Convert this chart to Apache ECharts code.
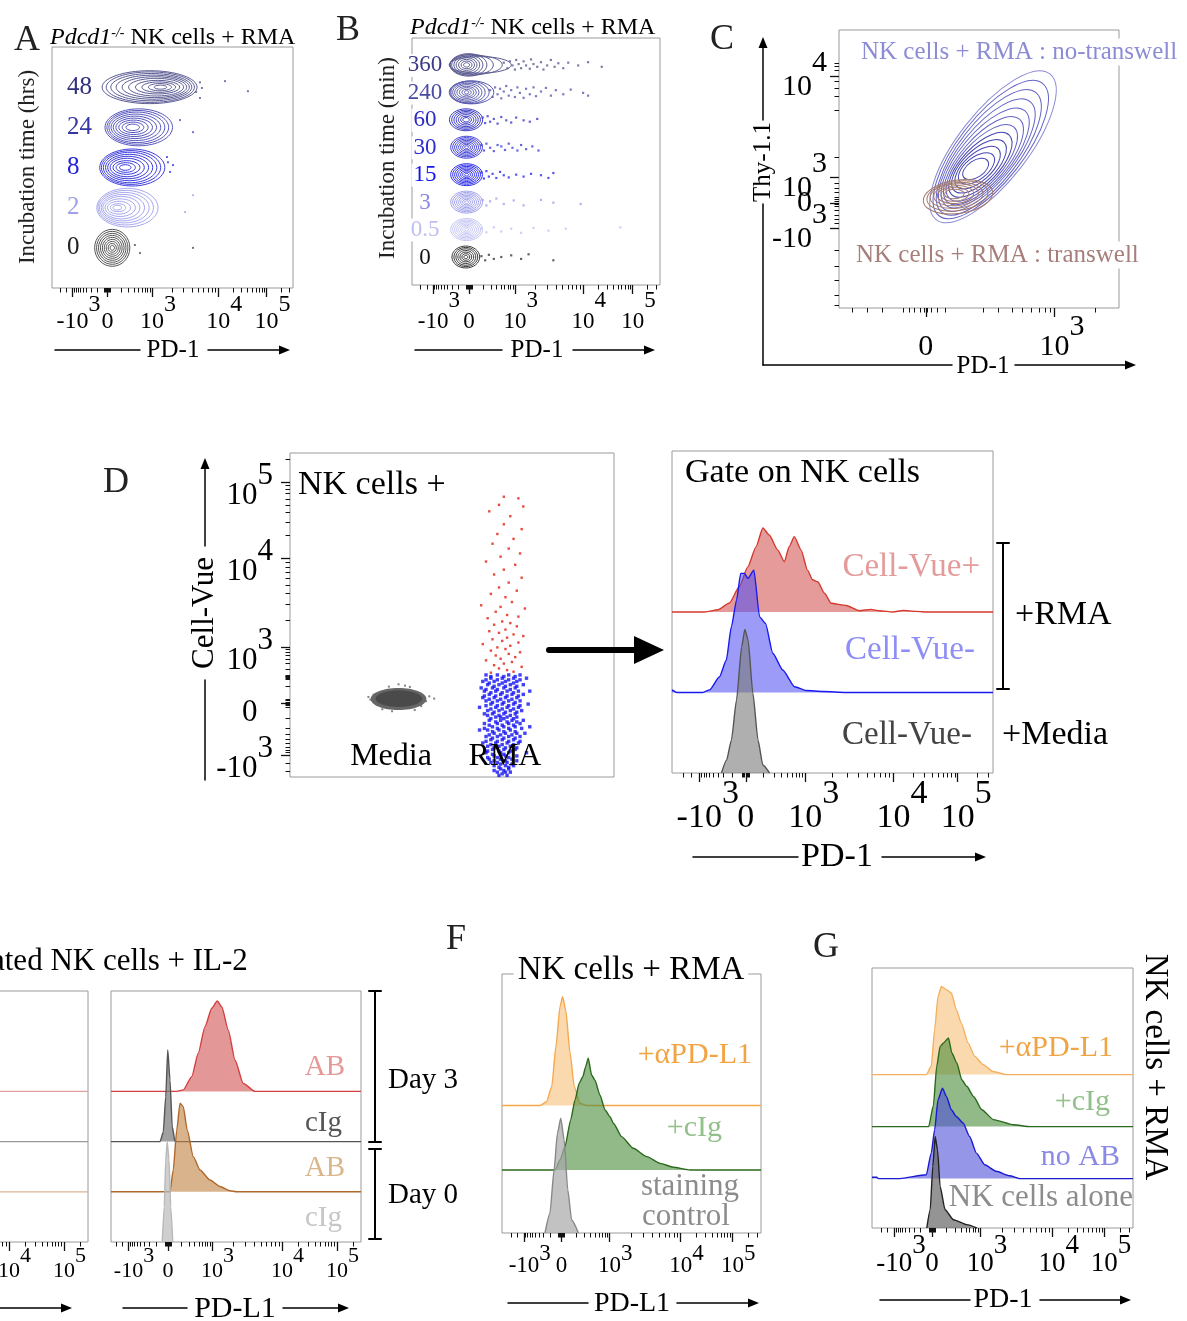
<!DOCTYPE html>
<html>
<head>
<meta charset="utf-8">
<script src="https://cdn.jsdelivr.net/npm/echarts@6/dist/echarts.min.js"></script>
<style>
  html, body { margin: 0; padding: 0; background: #fff; }
  #chart { width: 1187px; height: 1321px; }
</style>
</head>
<body>
<div id="chart"></div>
<script>
const FONT = '"Liberation Serif", "Times New Roman", serif';

// biexponential axes are drawn in display units 0-100 across each box
const biexLabels = ['-10^3', '0', '10^3', '10^4', '10^5'];
const biexTicks = [8.5, 23, 41.5, 69, 89];
const biexTicksE = [7, 22.8, 40.4, 68.4, 90.4];

// ---------- A: contour rows (hrs) ----------
const aRows = [1, 2, 3, 4, 5];
const aRowLabels = ['0', '2', '8', '24', '48'];
const aLabelColors = ['#222222', '#A0A0E8', '#2222D8', '#3636A2', '#30307A'];
const aLineColors = ['#555555', '#A6A6F0', '#3A3ADE', '#5454BE', '#5A5A94'];
// rings per row: [centre x, half width, half height]
const aRings = [
  [[25, 7.3, .46], [25, 6.5, .41], [25, 5.7, .36], [25, 4.9, .31], [25, 4.1, .26], [25, 3.3, .21], [25, 2.5, .16], [25, 1.7, .11], [25, 0.9, .06]],
  [[31.3, 12.7, .48], [30.6, 11.5, .43], [30, 10.3, .38], [29.4, 9, .33], [28.8, 7.7, .28], [28.3, 6.3, .22], [27.8, 4.8, .16], [27.4, 3.2, .1], [27.1, 1.8, .06]],
  [[33.3, 13.5, .46], [32.8, 12.3, .42], [32.4, 11.1, .38], [32, 9.8, .33], [31.6, 8.5, .28], [31.2, 7.1, .23], [30.9, 5.6, .17], [30.6, 4, .12], [30.4, 2.4, .07]],
  [[36, 14, .46], [35.6, 12.8, .42], [35.2, 11.6, .38], [34.8, 10.3, .33], [34.4, 9, .28], [34.1, 7.6, .23], [33.8, 6.1, .18], [33.6, 4.5, .13], [33.5, 2.8, .08]],
  [[40.5, 19.7, .41], [40.8, 18.3, .38], [41.2, 16.8, .34], [41.8, 15.2, .3], [42.5, 13.4, .26], [43.2, 11.4, .22], [43.8, 9.2, .17], [44.3, 7, .13], [44.8, 4.8, .09], [45, 2.6, .05]]
];
const aDots = [
  [[34.4, 1.07], [36.5, 0.87], [58.5, 1.0]],
  [[58.5, 2.31], [55.2, 1.89]],
  [[47.7, 3.26], [49, 2.89], [50.2, 3.06], [48.1, 3.13]],
  [[53.1, 4.18], [58.5, 3.88]],
  [[61.4, 5.12], [62.2, 4.98], [71.8, 5.15], [81.3, 4.9], [61.4, 4.73], [59.8, 4.88]]
];

// ---------- B: contour rows (min) ----------
const bRows = [1, 2, 3, 4, 5, 6, 7, 8];
const bRowLabels = ['0', '0.5', '3', '15', '30', '60', '240', '360'];
const bLabelColors = ['#111111', '#BEBEF2', '#8A8AE6', '#1414F0', '#2E2ED5', '#2C2CC0', '#4A4AA5', '#3B3B85'];
const bLineColors = ['#3C3C3C', '#C4C4F4', '#A0A0EC', '#2A2AEE', '#4040D8', '#3A3AC4', '#5A5AAE', '#5C5C92'];
const bSmall = [[22, 6.4, .40], [22, 5.6, .35], [22, 4.8, .30], [22, 4.0, .25], [22, 3.2, .20], [22, 2.4, .15], [22, 1.6, .10], [22, 0.8, .05]];
const bRings = [
  [[21.7, 5.6, .40], [21.7, 4.8, .35], [21.7, 4.0, .30], [21.7, 3.2, .24], [21.7, 2.4, .18], [21.7, 1.6, .12], [21.7, 0.8, .06]],
  bSmall, bSmall, bSmall, bSmall,
  [[21.8, 6.7, .40], [21.8, 5.8, .35], [21.8, 4.9, .30], [21.8, 4.0, .25], [21.8, 3.1, .19], [21.8, 2.2, .13], [21.8, 1.3, .08]],
  [[24, 9, .42], [23.2, 7.9, .41], [22.6, 6.9, .38], [22.3, 5.9, .33], [22.1, 4.9, .28], [22, 3.9, .22], [22, 2.9, .17], [22, 1.9, .11], [22, 0.9, .06]],
  [[27.5, 12.5, .30], [25.8, 10.6, .34], [24, 8.8, .38], [22.8, 7.4, .41], [22.3, 6.3, .37], [22.1, 5.2, .32], [22, 4.2, .26], [22, 3.2, .2], [22, 2.2, .14], [22, 1.2, .08]]
];
const bDots = [
  [[28, 1.05], [29.5, 0.9], [31, 1.1], [33, 0.95], [36, 1.02], [40, 1.08], [44, 0.95], [47, 1.12], [57, 0.9]],
  [[28, 2.05], [30, 1.92], [33, 2.1], [36, 1.95], [40, 2.05], [44, 1.9], [49, 2.08], [55, 1.98], [62, 2.05], [84, 2.1]],
  [[28.5, 3.1], [30, 2.9], [31.5, 3.05], [34, 3.15], [37, 2.95], [41, 3.08], [45, 2.9], [52, 3.1], [57, 3.0], [68, 2.95]],
  [[28, 4.1], [29, 3.88], [30, 4.15], [31, 3.95], [32.5, 4.05], [34, 3.9], [35.5, 4.12], [37, 4.0], [39, 3.92], [42, 4.02], [45, 3.95], [48, 4.05], [52, 4.0], [55, 3.9], [57, 4.08]],
  [[28, 5.1], [29, 4.9], [30, 5.15], [31.5, 5.0], [33, 4.88], [34.5, 5.1], [36, 5.05], [37.5, 4.92], [39, 5.15], [40.5, 5.0], [42.5, 4.9], [44, 5.1], [46, 4.95], [48.5, 5.05], [51, 4.9]],
  [[28.5, 6.1], [29.5, 5.9], [30.5, 6.15], [31.5, 5.95], [33, 6.05], [34.5, 5.88], [36, 6.12], [38, 6.0], [40, 5.92], [42, 6.1], [45, 6.0], [47.5, 5.95], [50.5, 6.05]],
  [[31.5, 7.1], [32.5, 6.85], [33.5, 7.2], [34.5, 6.95], [35.5, 7.15], [36, 6.8], [37, 7.05], [38, 7.25], [39, 6.9], [40, 7.1], [41.5, 6.85], [42.5, 7.2], [43.5, 7.0], [45, 6.82], [46, 7.15], [47.5, 6.95], [49, 7.2], [50, 6.88], [52, 7.05], [54, 7.18], [56, 6.9], [58, 7.1], [61, 6.95], [64, 7.12], [69, 7.0], [71, 6.9]],
  [[37, 8.1], [38.5, 7.9], [39.5, 8.15], [40.5, 8.0], [41.5, 7.85], [42, 8.2], [43, 8.05], [44, 7.9], [45, 8.15], [46, 8.0], [47.5, 7.88], [48, 8.22], [49, 8.05], [50.5, 7.95], [52, 8.12], [53, 7.85], [54.5, 8.0], [56, 8.2], [57.5, 7.95], [59, 8.08], [61, 7.9], [63, 8.1], [67, 8.0], [71, 8.12], [76.5, 7.95]]
];

// ---------- C: tilted contours ----------
const cXTicks = [31, 77];
const cXLabels = ['0', '10^3'];
const cYTicks = [28.8, 37.8, 47, 83.5];
const cYLabels = ['-10^3', '0', '10^3', '10^4'];
const cXMinor = [4.6, 10, 15.4, 23, 25, 27, 29, 30.4, 31.6, 33, 35, 38, 51.4, 57, 62, 65.5, 68.6, 71.5, 73.8, 75.6, 91.4];
const cYMinor = [1.1, 4.7, 10.1, 14.9, 20.9, 30.5, 32, 33.5, 35, 36.5, 37.2, 38.4, 39, 40, 41.5, 43, 45, 54.4, 71.2, 76, 79, 81.4, 85.6, 86.8, 88];
const cColors = ['#8A8AD8', '#6464C6', '#4646B2', '#A47A6C'];
// [cx, cy, rx, ry, angle deg, colour]
const cNoTranswell = [
  [55, 58, 33, 12.5, 52, 0], [54.2, 57, 30, 11.6, 52, 1], [53.5, 56, 27.2, 10.7, 52, 1], [52.8, 55, 24.6, 9.8, 51, 1],
  [52.2, 54, 22, 9, 50, 1], [51.6, 53, 19.6, 8.2, 49, 1], [51, 52.2, 17.2, 7.4, 48, 1], [50.5, 51.5, 14.8, 6.6, 46, 2],
  [50, 51, 12.4, 5.8, 44, 2], [49.5, 50.5, 10, 4.9, 42, 2], [49.1, 50.2, 7.6, 4, 38, 2], [48.8, 50, 5.2, 3, 34, 2]
];
const cTranswell = [
  [42.5, 40, 12.5, 6, 8, 3], [42.3, 40.3, 11, 5.3, 8, 3], [42, 40.5, 9.5, 4.6, 6, 3], [41.8, 40.7, 8, 3.9, 5, 3],
  [41.6, 40.8, 6.5, 3.2, 4, 3], [41.4, 40.9, 5, 2.5, 3, 3], [41.2, 41, 3.5, 1.7, 2, 3]
];

// ---------- D: Cell-Vue dot plot ----------
const dYTicks = [6.8, 22.8, 40.2, 67.5, 91.1];
const dYMinorExtra = [30.3, 30.6, 30.9, 31.2, 31.5];
const dMediaCloud = [[33.5, 24.1, 8.6, 3.4, 0, 0], [33.6, 24.2, 7.2, 2.6, 0, 1]];
const dMediaDots = [[24.8, 23.9], [25.8, 25.4], [42, 23.4], [43, 24.9], [30.5, 27.9], [35.5, 28.2], [28.5, 20.9], [38.5, 20.7], [33.5, 28.6], [27, 22.2], [40.5, 21.9], [44.5, 24.2], [24.2, 24.7], [31.5, 20.3], [37, 27.8]];
const dRmaRed = [
  [66, 86.5], [70.5, 86], [64.5, 84], [72, 83.5], [61.5, 82], [68, 80.5], [66, 78], [71.5, 76.5], [64, 75], [69, 73.5], [62.5, 72], [67.5, 70.5], [71, 69],
  [65, 68], [60.5, 66.5], [69.5, 65.5], [66, 64], [63, 62.5], [71.5, 61.5], [67.5, 60], [64.5, 58.5], [70, 57.5], [62, 56.5], [66.5, 55.5], [68.5, 54], [59, 53], [65, 52.5], [72.5, 52], [63.5, 51], [67, 50], [70.5, 49.5], [61, 49],
  [65.5, 48], [68, 47.5], [63, 47], [70, 46.5], [66.5, 45.5], [61.5, 45], [64.5, 44.5], [69, 44], [72, 43.5], [67, 43], [62.5, 42.5], [65.5, 42], [70.5, 41.5], [59.5, 41], [68, 40.5], [64, 40], [66.5, 39.5], [62, 39], [71, 38.5], [67.5, 38], [63.5, 37.5], [69.5, 37], [65, 36.5], [60.5, 36], [68.5, 35.5], [66, 35], [63, 34.5], [71.5, 34], [64.5, 33.5], [67, 33], [69, 32.5], [62, 32.2]
];
const dRmaBlue = [
  [60.5, 31.5], [64, 31.5], [67.5, 31.5], [71, 31.5], [62, 30.5], [65.5, 30.5], [69, 30.5], [73, 30.5],
  [59.5, 29.5], [63, 29.5], [66.5, 29.5], [70, 29.5], [61, 28.5], [64.5, 28.5], [68, 28.5], [72, 28.5],
  [62.5, 27.5], [66, 27.5], [69.5, 27.5], [59, 27.5], [60, 26.5], [63.5, 26.5], [67, 26.5], [70.5, 26.5], [74, 26.5],
  [61.5, 25.5], [65, 25.5], [68.5, 25.5], [72, 25.5], [63, 24.5], [66.5, 24.5], [70, 24.5], [59.5, 24.5],
  [60.5, 23.5], [64, 23.5], [67.5, 23.5], [71, 23.5], [62, 22.5], [65.5, 22.5], [69, 22.5], [73.5, 22.5],
  [58.5, 21.5], [63.5, 21.5], [67, 21.5], [70.5, 21.5], [61, 20.5], [64.5, 20.5], [68, 20.5], [71.5, 20.5],
  [62.5, 19.5], [66, 19.5], [69.5, 19.5], [60, 19.5], [63.5, 18.5], [67, 18.5], [70, 18.5], [65, 18.5],
  [61.5, 17.5], [65, 17.5], [68.5, 17.5], [72, 17.5], [60, 16.5], [64, 16.5], [67.5, 16.5], [71, 16.5],
  [62.5, 15.5], [66, 15.5], [69.5, 15.5], [74, 15.5], [61, 14.5], [64.5, 14.5], [68, 14.5], [58.5, 14.5],
  [63, 13.5], [66.5, 13.5], [70, 13.5], [72.5, 13.5], [60.5, 12.5], [64, 12.5], [67.5, 12.5], [71, 12.5],
  [62, 11.5], [65.5, 11.5], [69, 11.5], [63.5, 10.5], [67, 10.5], [70.5, 10.5], [59.5, 10.5],
  [61, 9.5], [64.5, 9.5], [68, 9.5], [62.5, 8.5], [66, 8.5], [69.5, 8.5], [60.5, 7.5], [65, 7.5], [67.5, 7.5], [73, 7.5],
  [63, 6.5], [66.5, 6.5], [70, 6.5], [61.5, 5.5], [65, 5.5], [68.5, 5.5], [64, 4.5], [67, 4.5], [62, 4.5],
  [63, 3.5], [66.5, 3.5], [69, 3.5], [65, 2.5], [67.5, 2.5], [64, 1.5], [66.5, 1.5], [68, 1.5], [64.5, 0.5], [67, 0.5],
  [62, 31], [66, 31], [69.5, 31], [60.5, 30], [64, 30], [67.5, 30], [71, 30], [61.5, 29], [65.5, 29], [69, 29],
  [63, 28], [66.5, 28], [70, 28], [60.5, 27], [64, 27], [68, 27], [62, 26], [65.5, 26], [69, 26],
  [60, 25], [63.5, 25], [67, 25], [70.5, 25], [61.5, 24], [65, 24], [68.5, 24], [62.5, 23], [66, 23], [69.5, 23],
  [60.5, 22], [64, 22], [67.5, 22], [71, 22], [62, 21], [65.5, 21], [69, 21], [63, 20], [66.5, 20], [70, 20],
  [61, 19], [64.5, 19], [68, 19], [62, 18], [66, 18], [69, 18], [63.5, 17], [67, 17], [70, 17],
  [61.5, 16], [65.5, 16], [69, 16], [60, 15], [64, 15], [67.5, 15], [71.5, 15], [62.5, 14], [66, 14], [69.5, 14],
  [61.5, 13], [65, 13], [68.5, 13], [62.5, 12], [66, 12], [69.5, 12], [60.5, 11], [64, 11], [67.5, 11], [71, 11],
  [62, 10], [65.5, 10], [69, 10], [63, 9], [66.5, 9], [70, 9], [61, 8], [64.5, 8], [68, 8], [62.5, 7], [66, 7],
  [64, 6], [67.5, 6], [61, 6], [63, 5], [66.5, 5], [70, 5], [65, 4], [68.5, 4], [64.5, 3], [67.5, 3], [63, 2], [66, 2], [65.5, 1]
];

// ---------- D: PD-1 histograms ----------
const dhCellVuePos = [[0, 50], [10.3, 50], [14.3, 50.7], [17.9, 52.8], [21, 57.9], [23.6, 64], [26.2, 70.3], [28.3, 76.1], [30.3, 73.9], [32.9, 69.3], [35, 65.6], [36.5, 70.3], [38.1, 73.4], [40.2, 69.3], [42.2, 63], [43.8, 60], [45.4, 59.4], [47.5, 55.8], [49.6, 52.7], [54.3, 52], [58.4, 50.4], [62, 50.8], [64.7, 50.4], [68.8, 50], [72, 50.5], [76, 50.2], [80, 50], [100, 50]];
const dhCellVueNeg = [[0, 25.8], [1.5, 25], [9.6, 25], [11.7, 25.8], [14.8, 29.9], [16.9, 35], [18.5, 45.4], [20.1, 53.7], [21.4, 62], [22.6, 62], [23.6, 60.4], [25.5, 63], [27.3, 48.5], [29.1, 46.5], [31.4, 37.2], [34.5, 32], [38.2, 26.8], [41.8, 25.6], [47, 25.3], [54.3, 25], [100, 25]];
const dhMedia = [[15.4, 0], [17, 4], [18.5, 10.2], [20.1, 22.7], [21.7, 39.2], [22.7, 44.6], [23.7, 41.3], [25.2, 24.7], [26.8, 10.2], [28.3, 2.5], [30.4, 0]];

// ---------- E: PD-L1 day 0 / day 3 ----------
const eLeftBaselines = [60, 40, 20];
const eAB3 = [[0, 60], [26.3, 60], [28.9, 60.6], [32.3, 65.9], [34.9, 75.2], [37.6, 85.8], [40.3, 93.1], [42.5, 96], [44.3, 93.7], [46.9, 84.5], [49.6, 72.5], [52.9, 63.2], [57.6, 60], [100, 60]];
const eIg3 = [[0, 40], [19.6, 40], [20.9, 43.7], [21.9, 57.9], [22.7, 76.5], [23.6, 64.5], [24.5, 45.9], [25.6, 40], [100, 40]];
const eAB0 = [[0, 20], [23.6, 20], [24.9, 28.7], [26.3, 44.6], [27.6, 55.3], [28.9, 53.9], [30.5, 44.6], [32.9, 34], [35.6, 28.7], [39.6, 24.7], [43.6, 22.1], [47.6, 20.4], [50.3, 20], [100, 20]];
const eIg0 = [[20.5, 0], [21.3, 14], [21.9, 32.7], [22.5, 40], [23.2, 32.7], [23.9, 14], [24.7, 0]];

// ---------- F: PD-L1 on NK cells + RMA ----------
const fAntiPDL1 = [[0, 49.2], [14.7, 49.2], [17.2, 50.7], [19.2, 56.5], [20.8, 71.9], [22.4, 87.4], [23.4, 91.2], [24.6, 86.1], [26.3, 69.4], [27.9, 56.5], [30.1, 50.1], [32.7, 49.2], [100, 49.2]];
const fCIg = [[0, 24.3], [20.5, 24.3], [22.4, 28.2], [24.3, 33.3], [26.5, 43.6], [28.2, 51.4], [29.8, 57.8], [31.2, 60.3], [32.3, 64.2], [33.3, 67.5], [34.6, 61], [35.9, 59], [37.8, 53.3], [39.8, 47.5], [41.7, 44.9], [43, 42.4], [46.2, 37.2], [50.7, 32.7], [55.9, 29.5], [61, 26.9], [66.1, 25.4], [72.6, 24.3], [100, 24.3]];
const fStain = [[16.6, 0], [18.5, 7.6], [20.1, 24.3], [21.4, 38.5], [22.7, 44.3], [24, 35.9], [25.4, 16.6], [26.9, 5], [29.5, 0]];

// ---------- G: PD-1 with blocking ----------
const gAntiPDL1 = [[0, 59], [20.8, 59], [22.7, 62.2], [24, 76.3], [25.3, 89.1], [26.6, 92.9], [28.5, 91.7], [30.4, 90.4], [32.3, 84], [34.2, 78.8], [36.8, 71.2], [39.4, 66], [42.6, 62.8], [46.4, 60.2], [51.5, 59], [100, 59]];
const gCIg = [[0, 39], [21.7, 39], [23.5, 47], [24.8, 62.2], [26.1, 69.8], [27.4, 71.2], [29.3, 73.1], [30.6, 67.3], [32.5, 63.5], [34.4, 57], [36.3, 54.5], [38.9, 50.6], [42.1, 45.5], [46.5, 41.7], [54.2, 39.7], [60.6, 39], [100, 39]];
const gNoAB = [[0, 19.5], [1.8, 19.5], [2.5, 19], [10.6, 19], [20.8, 20.5], [22.7, 28.8], [24, 37.8], [25.3, 49.3], [27, 53.8], [28.5, 50.6], [30.4, 45.5], [32.3, 42.9], [34.9, 40.4], [37.4, 35.2], [40, 28.8], [43.2, 24.3], [47.6, 21.8], [52.7, 20.1], [56.6, 19], [100, 19]];
const gAlone = [[21, 0], [22.3, 7], [23.3, 23.7], [24.2, 35.2], [25.1, 30.1], [26.1, 16], [28, 7], [31.2, 3.2], [36.3, 1.3], [40.2, 0]];

// ---------------------------------------------------------------
const grid = [], xAxis = [], yAxis = [], series = [], graphic = [];

function addGrid(b) {
  grid.push({ left: b[0], top: b[1], width: b[2], height: b[3], show: true, borderColor: '#9a9a9a', borderWidth: 1,
    backgroundColor: 'transparent', containLabel: false, outerBoundsMode: 'none' });
  return grid.length - 1;
}

function hiddenAxis(list, gi, max) {
  list.push({ type: 'value', gridIndex: gi, min: 0, max: max, show: false });
  return list.length - 1;
}

function nearest(ticks, v) {
  let best = 0;
  ticks.forEach((t, i) => { if (Math.abs(t - v) < Math.abs(ticks[best] - v)) best = i; });
  return best;
}

// Exponent on its own line above the base so the raise can be set exactly.
// sc / bc: distance from the axis line to the centre of the exponent / base.
function xLabelStyle(size, sc, bc) {
  const lb = Math.min(size, 2 * (bc - sc) - 8);
  const ls = Math.max(4, 2 * (bc - sc) - lb);
  const ws = size * 0.5;
  const f = { fontSize: size, fontFamily: FONT, color: '#000' };
  return {
    vertical: false,
    margin: Math.round(sc - ls / 2),
    rich: {
      s: Object.assign({}, f, { lineHeight: ls, align: 'right' }),
      p: Object.assign({}, f, { lineHeight: ls }),
      b: Object.assign({}, f, { lineHeight: lb, width: size + 2 * ws, align: 'center' }),
      m: Object.assign({}, f, { lineHeight: lb, width: size * 1.333 + 2 * ws, align: 'center' }),
      z: Object.assign({}, f, { lineHeight: lb, align: 'center' })
    }
  };
}
// up / down: exponent centre above the tick, base centre below the tick
function yLabelStyle(size, up, down, zeroDown, margin) {
  const ws = size * 0.5;
  const f = { fontSize: size, fontFamily: FONT, color: '#000' };
  return {
    vertical: true, zeroDown: zeroDown, margin: margin,
    rich: {
      s: Object.assign({}, f, { lineHeight: 2 * down, align: 'right' }),
      p: Object.assign({}, f, { lineHeight: Math.max(1, 2 * zeroDown) }),
      b: Object.assign({}, f, { lineHeight: 2 * up, width: size + ws, align: 'left' }),
      m: Object.assign({}, f, { lineHeight: 2 * up, width: size * 1.333 + ws, align: 'left' }),
      z: Object.assign({}, f, { lineHeight: size, width: size * 0.5 + ws, align: 'left' })
    }
  };
}
function tickText(label, st) {
  const parts = label.split('^');
  if (parts.length > 1) return '{s|' + parts[1] + '}\n{' + (parts[0].charAt(0) === '-' ? 'm' : 'b') + '|' + parts[0] + '}';
  if (st.vertical && !st.zeroDown) return '{z|' + label + '}';
  return '{p| }\n{z|' + label + '}';
}

// log-style minor ticks around the major positions of a biex axis
function biexMinor(p) {
  const neg = p[0], zero = p[1], e3 = p[2], e4 = p[3], e5 = p[4];
  const out = [];
  for (let k = 2; k <= 9; k++) {
    const f = Math.log10(k);
    out.push(e3 + f * (e4 - e3), e4 + f * (e5 - e4), e3 - (1 - f) * (e3 - zero), neg + (1 - f) * (zero - neg));
  }
  [0.4, 0.8, 1.2].forEach(d => out.push(zero - d, zero + d));
  [2, 3].forEach(k => out.push(e5 + Math.log10(k) * (e5 - e4)));
  out.push(neg - 2.5, neg - 5);
  return out.filter(v => v > 0.2 && v < 99.8);
}

// major ticks, minor ticks, then one label-only axis per label
// (each label on its own axis so crowded labels are never dropped)
function tickAxis(list, gi, max, pos, ticks, labels, minors, st) {
  const idx = list.length;
  const base = { type: 'value', gridIndex: gi, min: 0, max: max, position: pos, axisLine: { show: false }, splitLine: { show: false } };
  list.push(Object.assign({}, base, { axisLabel: { show: false },
    axisTick: { show: true, customValues: ticks, length: 9, lineStyle: { color: '#111', width: 1.3 } } }));
  list.push(Object.assign({}, base, { axisLabel: { show: false },
    axisTick: { show: true, customValues: minors, length: 4.5, lineStyle: { color: '#111', width: 1 } } }));
  ticks.forEach((t, i) => {
    list.push(Object.assign({}, base, { axisTick: { show: false },
      axisLabel: { show: true, customValues: [t], margin: st.margin, hideOverlap: false,
        formatter: () => tickText(labels[i], st), rich: st.rich } }));
  });
  return idx;
}

function rowAxis(gi, max, rows, labels, colors, size, margin, align, bg) {
  yAxis.push({
    type: 'value', gridIndex: gi, min: 0, max: max,
    axisLine: { show: false }, axisTick: { show: false }, splitLine: { show: false },
    axisLabel: { inside: true, customValues: rows, margin: margin, align: align, fontSize: size, fontFamily: FONT,
      backgroundColor: bg || 'transparent', padding: bg ? [0, 2] : 0,
      formatter: v => labels[nearest(rows, v)],
      color: v => colors[nearest(rows, Number(v))] }
  });
  return yAxis.length - 1;
}

function ringSeries(xi, yi, data, colors, z, fills) {
  series.push({
    type: 'custom', xAxisIndex: xi, yAxisIndex: yi, data: data, clip: false, silent: true, z: z,
    encode: { x: 0, y: 1 },
    renderItem: (params, api) => {
      const c = api.coord([api.value(0), api.value(1)]);
      const s = api.size([api.value(2), api.value(3)]);
      const ci = api.value(5);
      return {
        type: 'ellipse', x: c[0], y: c[1], rotation: api.value(4) * Math.PI / 180,
        shape: { cx: 0, cy: 0, rx: s[0], ry: s[1] },
        style: fills ? { fill: fills[ci], stroke: null } : { fill: null, stroke: colors[ci], lineWidth: 1 }
      };
    }
  });
}

function dotSeries(xi, yi, data, colorOf, size, z) {
  series.push({
    type: 'scatter', xAxisIndex: xi, yAxisIndex: yi, data: data, symbol: 'rect', symbolSize: size,
    itemStyle: { color: typeof colorOf === 'function' ? (p => colorOf(p.value[2])) : colorOf },
    clip: false, silent: true, z: z
  });
}

function histSeries(xi, yi, data, base, line, fill, op, z) {
  series.push({
    type: 'line', xAxisIndex: xi, yAxisIndex: yi, data: data, smooth: 0.2, smoothMonotone: 'x',
    symbol: 'none', showSymbol: false, clip: false, silent: true, z: z,
    lineStyle: { color: line, width: 1.4 },
    areaStyle: { color: fill, opacity: op, origin: base }
  });
}

function txt(x, y, text, size, color, align, o) {
  o = o || {};
  graphic.push({
    type: 'text', x: x, y: y, z: 100, rotation: o.rot || 0,
    style: {
      text: text, fontSize: size, fontFamily: FONT, fontStyle: o.italic ? 'italic' : 'normal',
      fill: color || '#000', textAlign: align || 'left', textVerticalAlign: 'middle',
      backgroundColor: o.bg, padding: o.bg ? [1, 4] : 0, rich: o.rich
    }
  });
}

function seg(x1, y1, x2, y2, w) {
  graphic.push({ type: 'line', z: 100, shape: { x1: x1, y1: y1, x2: x2, y2: y2 },
    style: { stroke: '#000', lineWidth: w || 1.5, lineCap: 'round' } });
}
function headRight(x, y) {
  graphic.push({ type: 'polygon', z: 100, shape: { points: [[x, y], [x - 11, y - 4.5], [x - 11, y + 4.5]] }, style: { fill: '#000' } });
}
function headUp(x, y) {
  graphic.push({ type: 'polygon', z: 100, shape: { points: [[x, y], [x - 4.5, y + 11], [x + 4.5, y + 11]] }, style: { fill: '#000' } });
}

// ---------- build A ----------
const gA = addGrid([52, 47, 241, 241]);
const xA = tickAxis(xAxis, gA, 100, 'bottom', biexTicks, biexLabels, biexMinor(biexTicks), xLabelStyle(24, 17, 34));
const yA = rowAxis(gA, 6, aRows, aRowLabels, aLabelColors, 25, 15, 'left');
const aRingData = [];
aRings.forEach((list, r) => list.forEach(g => aRingData.push([g[0], aRows[r], g[1], g[2], 0, r])));
ringSeries(xA, yA, aRingData, aLineColors, 3);
const aDotData = [];
aDots.forEach((list, r) => list.forEach(d => aDotData.push([d[0], d[1], r])));
dotSeries(xA, yA, aDotData, r => aLineColors[r], 2, 4);

// ---------- build B ----------
const gB = addGrid([412, 38, 248, 247]);
const xB = tickAxis(xAxis, gB, 100, 'bottom', biexTicks, biexLabels, biexMinor(biexTicks), xLabelStyle(23, 15, 36));
const yB = rowAxis(gB, 9, bRows, bRowLabels, bLabelColors, 23, 13, 'center', '#fff');
const bRingData = [];
bRings.forEach((list, r) => list.forEach(g => bRingData.push([g[0], bRows[r] + 0.02, g[1], g[2], 0, r])));
ringSeries(xB, yB, bRingData, bLineColors, 3);
const bDotData = [];
bDots.forEach((list, r) => list.forEach(d => bDotData.push([d[0], d[1], r])));
dotSeries(xB, yB, bDotData, r => bLineColors[r], 2.2, 4);

// ---------- build C ----------
const gC = addGrid([839, 30, 280, 278]);
const xC = tickAxis(xAxis, gC, 100, 'bottom', cXTicks, cXLabels, cXMinor, xLabelStyle(30, 19, 39));
const yC = tickAxis(yAxis, gC, 100, 'left', cYTicks, cYLabels, cYMinor, yLabelStyle(30, 13, 11, 0, 12));
ringSeries(xC, yC, cNoTranswell, cColors, 3);
ringSeries(xC, yC, cTranswell, cColors, 4);

// ---------- build D dot plot ----------
const gD = addGrid([290, 453, 324, 324]);
const xD = hiddenAxis(xAxis, gD, 100);
const yD = tickAxis(yAxis, gD, 100, 'left', dYTicks, biexLabels, biexMinor(dYTicks).concat(dYMinorExtra), yLabelStyle(31, 6, 14, 10, 17));
ringSeries(xD, yD, dMediaCloud, null, 3, ['#666666', '#4a4a4a']);
dotSeries(xD, yD, dMediaDots, '#666', 2, 3);
dotSeries(xD, yD, dRmaRed, '#E0200F', 2.4, 4);
dotSeries(xD, yD, dRmaBlue, '#1414F2', 3.4, 5);

// ---------- build D histograms ----------
const gDh = addGrid([672, 451, 321, 322]);
const xDh = tickAxis(xAxis, gDh, 100, 'bottom', biexTicks, biexLabels, biexMinor(biexTicks), xLabelStyle(34, 21, 45));
const yDh = hiddenAxis(yAxis, gDh, 100);
histSeries(xDh, yDh, dhCellVuePos, 50, '#D43A2E', '#D96666', 0.65, 3);
histSeries(xDh, yDh, dhCellVueNeg, 25, '#1A1AF0', '#4A4AF2', 0.55, 4);
histSeries(xDh, yDh, dhMedia, 0, '#555555', '#7A7A7A', 0.6, 5);

// ---------- build E ----------
const eStyle = xLabelStyle(22, 14, 29);
const gEl = addGrid([-162, 991, 250, 251]);
const xEl = tickAxis(xAxis, gEl, 100, 'bottom', biexTicksE, biexLabels, biexMinor(biexTicksE), eStyle);
const yEl = hiddenAxis(yAxis, gEl, 100);
const eLeftColors = ['#E0A0A0', '#9A9A9A', '#D8B494'];
eLeftBaselines.forEach((b, i) => series.push({ type: 'line', xAxisIndex: xEl, yAxisIndex: yEl, data: [[0, b], [100, b]],
  symbol: 'none', silent: true, z: 3, lineStyle: { color: eLeftColors[i], width: 1.2 } }));

const gEr = addGrid([111, 991, 250, 251]);
const xEr = tickAxis(xAxis, gEr, 100, 'bottom', biexTicksE, biexLabels, biexMinor(biexTicksE), eStyle);
const yEr = hiddenAxis(yAxis, gEr, 100);
histSeries(xEr, yEr, eAB3, 60, '#D44040', '#D46060', 0.65, 3);
histSeries(xEr, yEr, eIg3, 40, '#555555', '#777777', 0.7, 4);
histSeries(xEr, yEr, eAB0, 20, '#B0682A', '#C08040', 0.6, 5);
histSeries(xEr, yEr, eIg0, 0, '#B8B8B8', '#BBBBBB', 0.7, 6);

// ---------- build F ----------
const gF = addGrid([502, 974, 259, 259]);
const xF = tickAxis(xAxis, gF, 100, 'bottom', biexTicks, biexLabels, biexMinor(biexTicks), xLabelStyle(23, 21, 33));
const yF = hiddenAxis(yAxis, gF, 100);
histSeries(xF, yF, fAntiPDL1, 49.2, '#F5A84E', '#F7B460', 0.5, 3);
histSeries(xF, yF, fCIg, 24.3, '#2B6A1E', '#4A8A38', 0.6, 4);
histSeries(xF, yF, fStain, 0, '#888888', '#A8A8A8', 0.7, 5);

// ---------- build G ----------
const gG = addGrid([872, 968, 261, 260]);
const xG = tickAxis(xAxis, gG, 100, 'bottom', biexTicks, biexLabels, biexMinor(biexTicks), xLabelStyle(27, 17, 35));
const yG = hiddenAxis(yAxis, gG, 100);
histSeries(xG, yG, gAntiPDL1, 59, '#F5B060', '#F7B460', 0.5, 3);
histSeries(xG, yG, gCIg, 39, '#2B6A1E', '#4A8A38', 0.6, 4);
histSeries(xG, yG, gNoAB, 19, '#1A1AD0', '#5050D8', 0.6, 5);
histSeries(xG, yG, gAlone, 0, '#222222', '#666666', 0.7, 6);

// ---------- text, arrows, brackets ----------
[['A', 27, 41], ['B', 348, 31], ['C', 722, 40], ['D', 116, 483], ['F', 456, 940], ['G', 826, 948]]
  .forEach(p => txt(p[1], p[2], p[0], 36, '#222', 'center'));

const titleRich = {
  i: { fontSize: 24, fontFamily: FONT, fontStyle: 'italic', fill: '#000' },
  s: { fontSize: 14, fontFamily: FONT, fontStyle: 'italic', fill: '#000', verticalAlign: 'top' },
  n: { fontSize: 24, fontFamily: FONT, fill: '#000' }
};
txt(50, 38, '{i|Pdcd1}{s|-/-}{n| NK cells + RMA}', 24, '#000', 'left', { rich: titleRich });
txt(410, 28, '{i|Pdcd1}{s|-/-}{n| NK cells + RMA}', 24, '#000', 'left', { rich: titleRich });
txt(28, 167, 'Incubation time (hrs)', 23, '#222', 'center', { rot: Math.PI / 2 });
txt(388, 158, 'Incubation time (min)', 23, '#222', 'center', { rot: Math.PI / 2 });

txt(173, 350, 'PD-1', 25, '#000', 'center');
seg(55, 350, 140, 350); seg(208, 350, 283, 350); headRight(290, 350);
txt(537, 350, 'PD-1', 25, '#000', 'center');
seg(415, 350, 502, 350); seg(573, 350, 648, 350); headRight(655, 350);

txt(857, 52, 'NK cells + RMA : no-transwell', 25, '#8C8CD6', 'left', { bg: '#fff' });
txt(852, 255, 'NK cells + RMA : transwell', 25, '#A67E7A', 'left', { bg: '#fff' });
seg(763, 365, 763, 204); seg(763, 120, 763, 46); headUp(763, 37);
txt(763, 162, 'Thy-1.1', 25, '#000', 'center', { rot: Math.PI / 2 });
seg(763, 365, 952, 365); seg(1015, 365, 1127, 365); headRight(1136, 365);
txt(983, 366, 'PD-1', 25, '#000', 'center');

txt(298, 485, 'NK cells +', 34, '#000', 'left');
txt(391, 757, 'Media', 32, '#000', 'center');
txt(505, 757, 'RMA', 32, '#000', 'center');
seg(205, 780, 205, 680); seg(205, 546, 205, 467); headUp(205, 458);
txt(205, 613, 'Cell-Vue', 31, '#000', 'center', { rot: Math.PI / 2 });
seg(549, 650, 638, 650, 6);
graphic.push({ type: 'polygon', z: 100, shape: { points: [[664, 650], [634, 636], [634, 664]] }, style: { fill: '#000' } });

txt(685, 473, 'Gate on NK cells', 34, '#000', 'left');
txt(980, 567, 'Cell-Vue+', 33, '#E39B9B', 'right');
txt(975, 650, 'Cell-Vue-', 33, '#8E8EF6', 'right');
txt(972, 735, 'Cell-Vue-', 33, '#444', 'right');
seg(1003, 543, 1003, 689, 2); seg(997, 543, 1009, 543, 2); seg(997, 689, 1009, 689, 2);
txt(1015, 615, '+RMA', 34, '#000', 'left');
txt(1002, 735, '+Media', 34, '#000', 'left');
txt(837, 857, 'PD-1', 34, '#000', 'center');
seg(693, 857, 798, 857); seg(882, 857, 977, 857); headRight(986, 857);

txt(-9, 962, 'ated NK cells + IL-2', 31, '#000', 'left');
txt(345, 1067, 'AB', 29, '#E69898', 'right');
txt(342, 1123, 'cIg', 29, '#555', 'right');
txt(345, 1168, 'AB', 29, '#D9B68C', 'right');
txt(342, 1218, 'cIg', 29, '#C6C6C6', 'right');
seg(375, 991, 375, 1142, 2); seg(369, 991, 381, 991, 2); seg(369, 1142, 381, 1142, 2);
seg(375, 1149, 375, 1239, 2); seg(369, 1149, 381, 1149, 2); seg(369, 1239, 381, 1239, 2);
txt(388, 1080, 'Day 3', 29, '#000', 'left');
txt(388, 1195, 'Day 0', 29, '#000', 'left');
seg(0, 1308, 63, 1308); headRight(72, 1308);
txt(235, 1309, 'PD-L1', 30, '#000', 'center');
seg(123, 1308, 187, 1308); seg(283, 1308, 340, 1308); headRight(349, 1308);

txt(631, 970, 'NK cells + RMA', 33, '#000', 'center', { bg: '#fff' });
txt(752, 1055, '+αPD-L1', 30, '#F2A445', 'right');
txt(722, 1128, '+cIg', 30, '#92C08A', 'right');
txt(690, 1187, 'staining', 31, '#8C8C8C', 'center');
txt(686, 1217, 'control', 31, '#8C8C8C', 'center');
txt(632, 1304, 'PD-L1', 28, '#000', 'center');
seg(508, 1303, 588, 1303); seg(677, 1303, 750, 1303); headRight(759, 1303);

txt(1113, 1048, '+αPD-L1', 30, '#F2A445', 'right');
txt(1110, 1102, '+cIg', 30, '#92C08A', 'right');
txt(1120, 1157, 'no AB', 30, '#8A8AE6', 'right');
txt(1133, 1198, 'NK cells alone', 31, '#8C8C8C', 'right');
txt(1155, 1067, 'NK cells + RMA', 33, '#000', 'center', { rot: -Math.PI / 2 });
txt(1003, 1300, 'PD-1', 28, '#000', 'center');
seg(880, 1300, 970, 1300); seg(1040, 1300, 1122, 1300); headRight(1131, 1300);

const chart = echarts.init(document.getElementById('chart'), null, { renderer: 'canvas' });
chart.setOption({
  animation: false,
  backgroundColor: '#fff',
  textStyle: { fontFamily: FONT },
  grid: grid,
  xAxis: xAxis,
  yAxis: yAxis,
  series: series,
  graphic: graphic
});
</script>
</body>
</html>
